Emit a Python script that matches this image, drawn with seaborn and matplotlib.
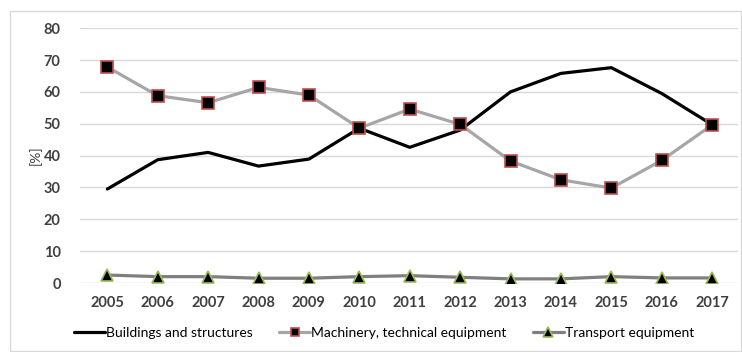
import matplotlib
matplotlib.use("Agg")
import matplotlib.pyplot as plt
import seaborn as sns
import pandas as pd
from matplotlib.patches import Rectangle

years = ["2005", "2006", "2007", "2008", "2009", "2010", "2011",
         "2012", "2013", "2014", "2015", "2016", "2017"]
buildings = [29.5, 38.7, 41.0, 36.7, 38.9, 48.6, 42.6, 48.0, 60.0, 65.8, 67.6, 59.5, 49.7]
machinery = [67.8, 58.8, 56.6, 61.4, 59.0, 48.6, 54.6, 49.8, 38.3, 32.4, 29.8, 38.5, 49.6]
transport = [2.5, 2.0, 2.0, 1.5, 1.5, 2.0, 2.3, 1.8, 1.3, 1.3, 2.0, 1.6, 1.6]

s_build = "Buildings and structures"
s_mach = "Machinery, technical equipment"
s_trans = "Transport equipment"

df = pd.DataFrame({
    "year": years * 3,
    "value": buildings + machinery + transport,
    "series": [s_build] * 13 + [s_mach] * 13 + [s_trans] * 13,
})
df["pos"] = df.groupby("series").cumcount()

sns.set_theme(style="white")
plt.rcParams["font.family"] = ["Lato", "DejaVu Sans"]

fig = plt.figure(figsize=(7.42, 3.52), dpi=100)
ax = fig.add_axes([0.108, 0.196, 0.887, 0.724])

# light frame around the whole chart
fig.patches.append(Rectangle((10 / 742, 1 - 351 / 352), 731 / 742, 340 / 352,
                             transform=fig.transFigure, fill=False,
                             edgecolor="#d9d9d9", linewidth=1.0, zorder=0))

styles = {
    s_build: dict(color="black", lw=2.3, marker=None, mfc=None, mec=None, ms=0),
    s_mach: dict(color="#a6a6a6", lw=2.3, marker="s", mfc="black", mec="#c0504d", ms=8.5),
    s_trans: dict(color="#7f7f7f", lw=2.3, marker="^", mfc="black", mec="#9bbb59", ms=9),
}

for name, st in styles.items():
    sub = df[df["series"] == name]
    kw = dict(color=st["color"], linewidth=st["lw"], label=name, ax=ax)
    if st["marker"]:
        kw.update(marker=st["marker"], markerfacecolor=st["mfc"],
                  markeredgecolor=st["mec"], markersize=st["ms"], markeredgewidth=1.2)
    sns.lineplot(data=sub, x="pos", y="value", **kw)

ax.set_xlim(-0.54, 12.52)
ax.set_ylim(0, 80)
ax.set_yticks(range(0, 81, 10))
ax.set_xticks(range(len(years)))
ax.set_xticklabels(years)
ax.yaxis.grid(True, color="#d9d9d9", linewidth=1)
ax.set_axisbelow(True)
for sp in ax.spines.values():
    sp.set_visible(False)
ax.tick_params(axis="both", length=0, labelsize=10.5, colors="#404040")
ax.tick_params(axis="x", pad=9)
ax.tick_params(axis="y", pad=14)
for lab in ax.get_xticklabels() + ax.get_yticklabels():
    lab.set_fontweight("bold")
ax.set_xlabel("")
ax.set_ylabel("[%]", fontsize=10, color="#404040")
ax.yaxis.set_label_coords(-0.058, 0.5)

if ax.legend_:
    ax.legend_.remove()
handles, labels = ax.get_legend_handles_labels()
fig.legend(handles, labels, loc="center", bbox_to_anchor=(0.518, 1 - 333 / 352),
           ncol=3, frameon=False, fontsize=10, handlelength=2.2,
           columnspacing=1.9, handletextpad=0.1, labelcolor="black",
           markerscale=0.75)

fig.savefig("out.png", dpi=100)
